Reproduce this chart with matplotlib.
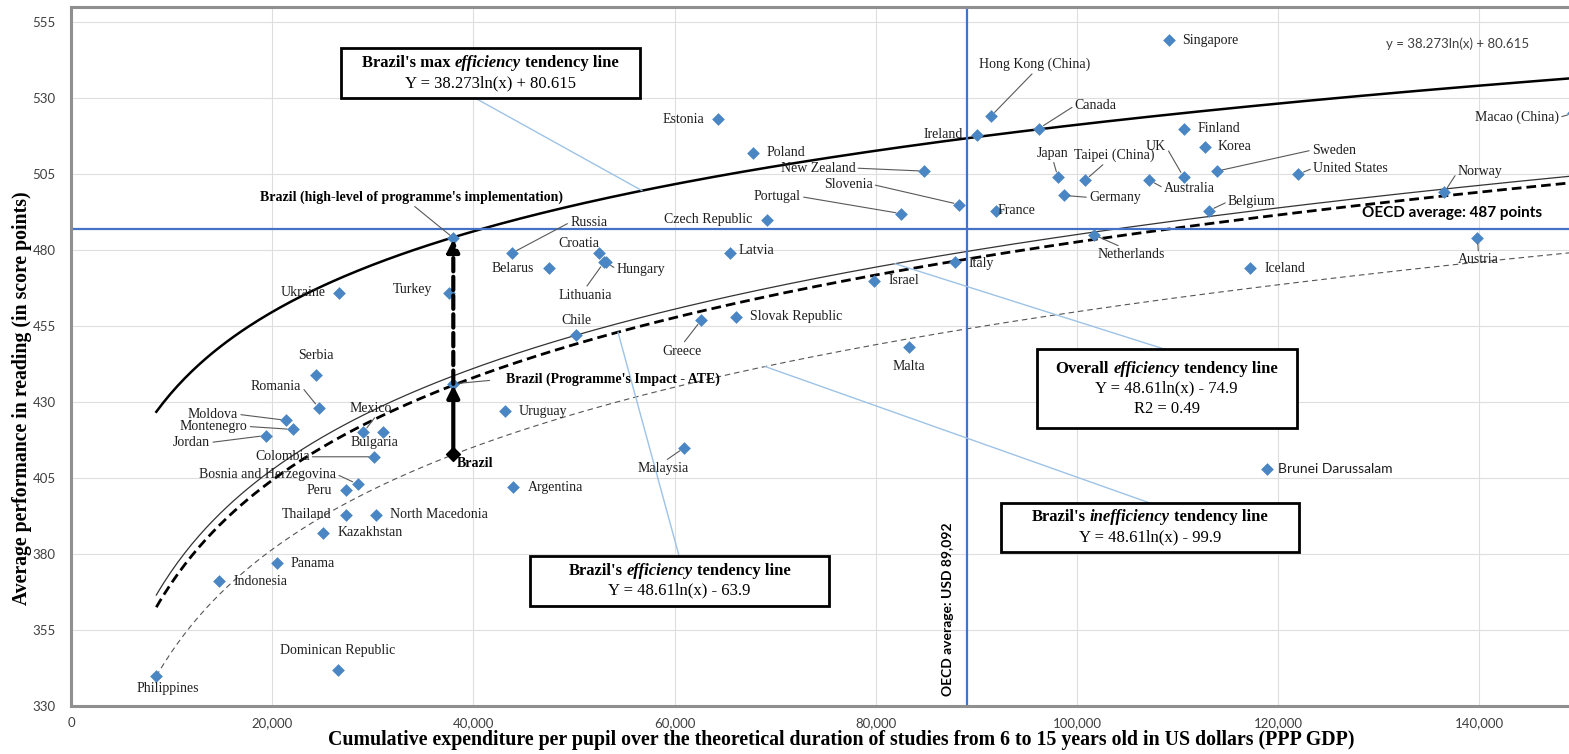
import numpy as np
import matplotlib.pyplot as plt
from matplotlib.patches import Rectangle
from matplotlib.offsetbox import TextArea, HPacker, VPacker, AnnotationBbox

SERIF = 'Liberation Serif'
SANS = 'Lato'

# PISA reading score vs cumulative expenditure per pupil (USD PPP)
countries = [
    'Philippines', 'Indonesia', 'Panama', 'Dominican Republic', 'Kazakhstan',
    'Thailand', 'Peru', 'North Macedonia', 'Bosnia and Herzegovina', 'Colombia',
    'Jordan', 'Moldova', 'Montenegro', 'Romania', 'Serbia', 'Mexico', 'Bulgaria',
    'Ukraine', 'Turkey', 'Uruguay', 'Argentina', 'Russia', 'Belarus', 'Croatia',
    'Hungary', 'Lithuania', 'Chile', 'Greece', 'Slovak Republic', 'Latvia',
    'Malaysia', 'Estonia', 'Poland', 'Czech Republic', 'Israel', 'Portugal',
    'Malta', 'New Zealand', 'Italy', 'Slovenia', 'Ireland', 'Hong Kong (China)',
    'France', 'Canada', 'Japan', 'Germany', 'Taipei (China)', 'Netherlands',
    'Australia', 'Singapore', 'UK', 'Finland', 'Korea', 'Belgium', 'Sweden',
    'Iceland', 'Brunei Darussalam', 'United States', 'Norway', 'Austria',
    'Macao (China)',
]
expenditure = [
    8480, 14710, 20480, 26510, 25020,
    27340, 27370, 30290, 28500, 30150,
    19350, 21370, 22040, 24650, 24320, 29060, 31040,
    26670, 37600, 43140, 43970, 43810, 47510, 52520,
    53180, 52980, 50200, 62650, 66070, 65510,
    60960, 64340, 67820, 69210, 79820, 82540,
    83270, 84790, 87900, 88300, 90030, 91420,
    91920, 96200, 98100, 98700, 100800, 101700,
    107200, 109100, 110600, 110600, 112700, 113100, 113900,
    117200, 118900, 122000, 136500, 139800,
    149300,
]
reading = [
    340, 371, 377, 342, 387,
    393, 401, 393, 403, 412,
    419, 424, 421, 428, 439, 420, 420,
    466, 466, 427, 402, 479, 474, 479,
    476, 476, 452, 457, 458, 479,
    415, 523, 512, 490, 470, 492,
    448, 506, 476, 495, 518, 524,
    493, 520, 504, 498, 503, 485,
    503, 549, 504, 520, 514, 493, 506,
    474, 408, 505, 499, 484,
    525,
]

brazil_x = 38000
brazil_levels = [413, 436, 484]  # observed, programme impact (ATE), high-level

# tendency lines y = a*ln(x) + b
trend_names = ['max', 'overall', 'efficiency', 'inefficiency']
trend_a = [38.273, 48.08, 48.71, 48.61]
trend_b = [80.615, -68.4, -78.1, -99.9]

oecd_reading = 487
oecd_expenditure = 89092

x_ticks = list(range(0, 140001, 20000))
y_ticks = list(range(330, 556, 25))
XMAX = 148900


def trend(name, x):
    i = trend_names.index(name)
    return trend_a[i] * np.log(x) + trend_b[i]


# label offsets in pixels from the marker, and leader-line start (relpos) or None
label_layout = {
    'Philippines': (11, -13, None), 'Indonesia': (42, 0, None),
    'Panama': (36, 0, None), 'Dominican Republic': (0, 19, None),
    'Kazakhstan': (47, 0, None), 'Thailand': (-39, 0, None),
    'Peru': (-27, 0, None), 'North Macedonia': (63, 0, None),
    'Bosnia and Herzegovina': (-90, 10, (1, 0.5)), 'Colombia': (-92, 0, (1, 0.5)),
    'Jordan': (-74, -7, (1, 0.5)), 'Moldova': (-73, 6, (1, 0.5)),
    'Montenegro': (-79, 3, (1, 0.5)), 'Romania': (-43, 22, (1, 0.5)),
    'Serbia': (0, 19, None), 'Mexico': (7, 24, (0.65, 0)),
    'Bulgaria': (-9, -10, None), 'Ukraine': (-36, 0, None),
    'Turkey': (-37, 3, None), 'Uruguay': (38, 0, None),
    'Argentina': (42, 0, None), 'Russia': (77, 31, (0, 0.5)),
    'Belarus': (-36, 0, None), 'Croatia': (-20, 10, None),
    'Hungary': (35, -7, (0, 0.5)), 'Lithuania': (-19, -33, (0.5, 1)),
    'Chile': (0, 15, None), 'Greece': (-19, -31, (0.5, 1)),
    'Slovak Republic': (60, 0, None), 'Latvia': (26, 3, None),
    'Malaysia': (-21, -21, (0.5, 1)), 'Estonia': (-35, 0, None),
    'Poland': (33, 0, None), 'Czech Republic': (-59, 0, None),
    'Israel': (30, 0, None), 'Portugal': (-124, 17, (1, 0.5)),
    'Malta': (0, -19, None), 'New Zealand': (-106, 3, (1, 0.5)),
    'Italy': (26, -1, None), 'Slovenia': (-111, 20, (1, 0.5)),
    'Ireland': (-34, 0, None), 'Hong Kong (China)': (44, 52, (0.5, 0)),
    'France': (21, 0, None), 'Canada': (57, 23, (0, 0.5)),
    'Japan': (-5, 24, (0.5, 0)), 'Germany': (51, -2, (0, 0.5)),
    'Taipei (China)': (29, 25, (0.4, 0)), 'Netherlands': (37, -20, (0.4, 1)),
    'Australia': (40, -8, (0, 0.5)), 'Singapore': (42, 0, None),
    'UK': (-28, 31, (1, 0.5)), 'Finland': (35, 0, None),
    'Korea': (30, 0, None), 'Belgium': (43, 9, (0, 0.5)),
    'Sweden': (117, 21, (0, 0.5)), 'Iceland': (35, 0, None),
    'Brunei Darussalam': (68, 0, None), 'United States': (52, 6, (0, 0.5)),
    'Norway': (36, 21, (0, 0.5)), 'Austria': (1, -22, (0.5, 1)),
    'Macao (China)': (-56, -4, (1, 0.5)),
}


def px(x, y):
    # reference pixel -> axes fraction (layout helper for boxes/texts)
    return (x - 71) / 1498, (706 - y) / 699


fig = plt.figure(figsize=(15.69, 7.54), dpi=100)
ax = fig.add_axes([71 / 1569, 48 / 754, 1498 / 1569, 699 / 754])
ax.set_xlim(0, XMAX)
ax.set_ylim(330, 560)

ax.set_xticks(x_ticks)
ax.set_xticklabels([f'{t:,}' for t in x_ticks])
ax.set_yticks(y_ticks)
ax.tick_params(length=0, labelsize=9.5, labelcolor='#404040')
ax.tick_params(axis='y', pad=11)
ax.tick_params(axis='x', pad=8)
for lab in ax.get_xticklabels() + ax.get_yticklabels():
    lab.set_fontfamily(SANS)
ax.grid(True, color='#dedede', lw=0.8)
ax.set_axisbelow(True)
for s in ['left', 'bottom', 'top']:
    ax.spines[s].set_color('#8f8f8f')
    ax.spines[s].set_linewidth(2.2)
ax.spines['right'].set_visible(False)

ax.set_xlabel('Cumulative expenditure per pupil over the theoretical duration of studies '
              'from 6 to 15 years old in US dollars (PPP GDP)',
              fontfamily=SERIF, fontweight='bold', fontsize=14.3)
ax.xaxis.set_label_coords(0.514, -0.035)
ax.set_ylabel('Average performance in reading (in score points)',
              fontfamily=SERIF, fontweight='bold', fontsize=14.2)
ax.yaxis.set_label_coords(-0.026, 0.44)

# tendency lines
xs = np.linspace(min(expenditure), XMAX, 400)
ax.plot(xs, trend('max', xs), color='black', lw=1.8, zorder=2)
ax.plot(xs, trend('overall', xs), color='#333333', lw=0.9, zorder=2)
ax.plot(xs, trend('efficiency', xs), color='black', lw=2, ls=(0, (3.5, 1.8)), zorder=2)
ax.plot(xs, trend('inefficiency', xs), color='#555555', lw=0.8, ls=(0, (5, 3.5)), zorder=2)

# OECD averages
ax.axhline(oecd_reading, color='#4472c4', lw=1.6, zorder=2.5)
ax.axvline(oecd_expenditure, color='#4472c4', lw=1.6, zorder=2.5)
ax.text(*px(1452, 213), 'OECD average: 487 points', transform=ax.transAxes,
        fontfamily=SANS, fontweight='bold', fontsize=11, ha='center', va='center')
ax.annotate('OECD average: USD 89,092', xy=(oecd_expenditure, 0.139),
            xycoords=('data', 'axes fraction'), xytext=(-19, 0), textcoords='offset pixels',
            rotation=90, ha='center', va='center', fontfamily=SANS, fontweight='bold',
            fontsize=10)
ax.text(*px(1458, 44), 'y = 38.273ln(x) + 80.615', transform=ax.transAxes,
        fontfamily=SANS, fontsize=9.5, color='#404040', ha='center', va='center')

# countries
ax.scatter(expenditure, reading, marker='D', s=42, color='#4a86c4', zorder=4, linewidths=0)
for name, x, y in zip(countries, expenditure, reading):
    dx, dy, rel = label_layout[name]
    fam = SANS if name == 'Brunei Darussalam' else SERIF
    props = None
    if rel is not None:
        props = dict(arrowstyle='-', color='#595959', lw=0.8, relpos=rel,
                     shrinkA=0, shrinkB=4)
    ax.annotate(name, (x, y), xytext=(dx, dy), textcoords='offset pixels',
                ha='center', va='center', fontfamily=fam, fontsize=10,
                color='#1e1e1e', arrowprops=props, zorder=5, annotation_clip=False)

# Brazil
b_obs, b_ate, b_high = brazil_levels
ax.annotate('', xy=(brazil_x, b_high), xytext=(brazil_x, b_ate),
            arrowprops=dict(arrowstyle='-|>', color='black', lw=3, ls=(0, (3.2, 1.3)),
                            mutation_scale=18, shrinkA=0, shrinkB=1), zorder=5)
ax.annotate('', xy=(brazil_x, b_ate), xytext=(brazil_x, b_obs),
            arrowprops=dict(arrowstyle='-|>', color='black', lw=3,
                            mutation_scale=18, shrinkA=0, shrinkB=1), zorder=5)
ax.scatter([brazil_x, brazil_x], [b_ate, b_high], marker='D', s=42, color='#4a86c4',
           zorder=4.5, linewidths=0)
ax.scatter([brazil_x], [b_obs], marker='D', s=50, color='black', zorder=6)
bold = dict(fontfamily=SERIF, fontweight='bold', fontsize=10, zorder=5)
ax.annotate("Brazil (high-level of programme's implementation)", (brazil_x, b_high),
            xytext=(-42, 41), textcoords='offset pixels', ha='center', va='center',
            arrowprops=dict(arrowstyle='-', color='#595959', lw=0.8, relpos=(0.5, 0),
                            shrinkA=0, shrinkB=3), **bold)
ax.annotate("Brazil (Programme's Impact - ATE)", (brazil_x, b_ate),
            xytext=(53, 5), textcoords='offset pixels', ha='left', va='center',
            arrowprops=dict(arrowstyle='-', color='#595959', lw=0.8, relpos=(0, 0.5),
                            shrinkA=10, shrinkB=3), **bold)
ax.annotate('Brazil', (brazil_x, b_obs), xytext=(4, -10), textcoords='offset pixels',
            ha='left', va='center', **bold)

# tendency line boxes
boxes = [
    ([("Brazil's max", False), ('efficiency', True), ('tendency line', False)],
     ['Y = 38.273ln(x) + 80.615'], (490.5, 73), (299, 50), (475, 98), 'max', 56760),
    ([("Brazil's", False), ('efficiency', True), ('tendency line', False)],
     ['Y = 48.61ln(x) - 63.9'], (679.5, 580.7), (299, 50), (679, 555.7), 'efficiency', 54370),
    ([('Overall', False), ('efficiency', True), ('tendency line', False)],
     ['Y = 48.61ln(x) - 74.9', 'R2 = 0.49'], (1166.6, 388.8), (260, 79), (1165, 349.3),
     'overall', 81900),
    ([("Brazil's", False), ('inefficiency', True), ('tendency line', False)],
     ['Y = 48.61ln(x) - 99.9'], (1149.9, 527.2), (298, 49), (1149, 502.7),
     'inefficiency', 68990),
]
for title, eqs, center, size, start, curve, tx in boxes:
    cx, cy = px(*center)
    w, h = size[0] / 1498, size[1] / 699
    ax.add_patch(Rectangle((cx - w / 2, cy - h / 2), w, h, transform=ax.transAxes,
                           facecolor='white', edgecolor='black', lw=2, zorder=6))
    parts = [TextArea(t, textprops=dict(fontfamily=SERIF, fontweight='bold', fontsize=12,
                                        fontstyle='italic' if it else 'normal'))
             for t, it in title]
    rows = [HPacker(children=parts, sep=3, pad=0, align='baseline')]
    rows += [TextArea(e, textprops=dict(fontfamily=SERIF, fontsize=12)) for e in eqs]
    vp = VPacker(children=rows, sep=3, pad=0, align='center')
    ab = AnnotationBbox(vp, (cx, cy), xycoords='axes fraction', frameon=False,
                        box_alignment=(0.5, 0.5), zorder=7)
    ax.add_artist(ab)
    ax.annotate('', xy=(tx, trend(curve, tx)), xycoords='data',
                xytext=px(*start), textcoords='axes fraction',
                arrowprops=dict(arrowstyle='-', color='#9dc3e6', lw=1, shrinkA=0, shrinkB=0),
                zorder=3)

fig.savefig('out.png', dpi=100)
